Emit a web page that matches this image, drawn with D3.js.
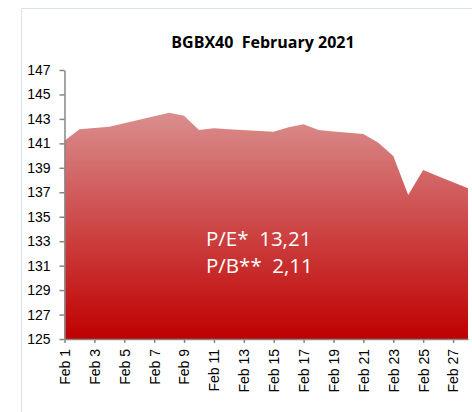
<!DOCTYPE html>
<html>
<head>
<meta charset="utf-8">
<script src="https://cdn.jsdelivr.net/npm/d3@7"></script>
<style>
  body { margin: 0; background: #fff; }
  svg { display: block; font-family: "Open Sans", "Noto Sans", sans-serif; }
</style>
</head>
<body>
<svg id="chart" width="472" height="412"></svg>
<script>
// BGBX40 closing values, February 2021
const dates = ["2021-02-01", "2021-02-02", "2021-02-03", "2021-02-04", "2021-02-05",
    "2021-02-08", "2021-02-09", "2021-02-10", "2021-02-11", "2021-02-12",
    "2021-02-15", "2021-02-16", "2021-02-17", "2021-02-18", "2021-02-19",
    "2021-02-21", "2021-02-22", "2021-02-23", "2021-02-24", "2021-02-25",
    "2021-02-26", "2021-02-28"];
const values = [141.22, 142.15, 142.25, 142.36, 142.65,
    143.51, 143.26, 142.09, 142.23, 142.16,
    141.95, 142.31, 142.56, 142.09, 141.98,
    141.77, 141.05, 139.97, 136.78, 138.82,
    138.32, 137.33];
const yTicks = [125, 127, 129, 131, 133, 135, 137, 139, 141, 143, 145, 147];
const title = "BGBX40\u00a0\u00a0February 2021";
const notes = ["P/E*\u00a0\u00a013,21", "P/B**\u00a0\u00a02,11"];

const parse = d3.timeParse("%Y-%m-%d");
const data = dates.map((d, i) => ({date: parse(d), value: values[i]}));

const svg = d3.select("#chart");

// outer frame (only left and top edges visible)
svg.append("path")
    .attr("d", "M21.5,412V8.5H472")
    .attr("fill", "none")
    .attr("stroke", "#d9e1ea")
    .attr("stroke-width", 1);

const x = d3.scaleTime()
    .domain([parse("2021-02-01"), parse("2021-02-28")])
    .range([64.5, 468]);

const y = d3.scaleLinear()
    .domain([125, 147])
    .range([339, 70]);

const defs = svg.append("defs");
const grad = defs.append("linearGradient")
    .attr("id", "fillGrad")
    .attr("x1", 0).attr("y1", 0).attr("x2", 0).attr("y2", 1);
grad.append("stop").attr("offset", "0%").attr("stop-color", "#da8e8e");
grad.append("stop").attr("offset", "100%").attr("stop-color", "#c00000");

const area = d3.area()
    .x(d => x(d.date))
    .y0(y(125))
    .y1(d => y(d.value));

svg.append("path")
    .datum(data)
    .attr("d", area)
    .attr("fill", "url(#fillGrad)");

// title
svg.append("text")
    .attr("x", 263)
    .attr("y", 48)
    .attr("text-anchor", "middle")
    .style("font-size", "16px")
    .style("font-weight", "bold")
    .text(title);

// P/E and P/B labels
svg.selectAll(".note")
    .data(notes)
    .enter().append("text")
    .attr("class", "note")
    .attr("x", 206)
    .attr("y", (d, i) => 246 + i * 27)
    .attr("fill", "#fff")
    .style("font-size", "20.5px")
    .text(d => d);

// y axis
const yAxis = svg.append("g")
    .attr("transform", "translate(64.5,0)")
    .call(d3.axisLeft(y).tickValues(yTicks).tickSize(5).tickSizeOuter(0).tickPadding(9));
yAxis.selectAll("text").style("font-size", "14px").attr("fill", "#000");

// x axis
const xTicks = d3.range(1, 28, 2).map(d => new Date(2021, 1, d));
const xAxis = svg.append("g")
    .attr("transform", "translate(0,339)")
    .call(d3.axisBottom(x).tickValues(xTicks).tickSize(4).tickSizeOuter(0)
        .tickFormat(d3.timeFormat("Feb %-d")));
xAxis.selectAll("text")
    .style("font-size", "14px")
    .attr("fill", "#000")
    .attr("transform", "rotate(-90)")
    .attr("x", -10)
    .attr("y", 0)
    .attr("dy", "0.35em")
    .style("text-anchor", "end");

svg.selectAll(".domain, .tick line")
    .attr("stroke", "#868686")
    .attr("stroke-width", 1.5);
</script>
</body>
</html>
